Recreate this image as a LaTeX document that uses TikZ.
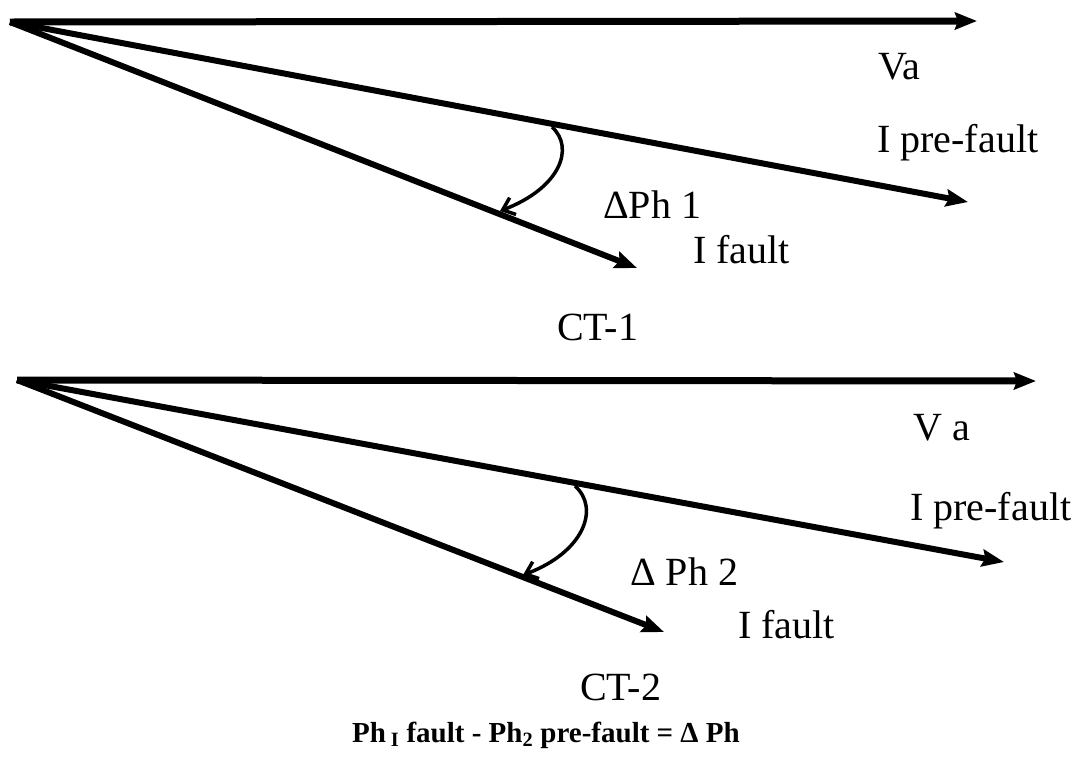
\documentclass[tikz,border=0pt]{standalone}
\usepackage{fontspec}
\setmainfont{Liberation Serif}
\usetikzlibrary{arrows.meta}
\begin{document}
\begin{tikzpicture}[x=1pt,y=-1pt,
  phasor/.style={line width=6pt,-{Stealth[length=22pt,width=17pt,inset=3pt]}},
  refph/.style={line width=7pt,-{Stealth[length=22pt,width=17pt,inset=3pt]}},
  angarc/.style={line width=3.5pt,-{Straight Barb[length=11pt,width=18pt,line width=3.5pt]}},
  lbl/.style={anchor=base west,inner sep=0pt,font=\fontsize{40}{48}\selectfont},
  captxt/.style={anchor=base,inner sep=0pt,font=\fontsize{29}{34}\selectfont\bfseries}]
\useasboundingbox (0,0) rectangle (1089,764);
% ---------- CT-1 ----------
\coordinate (o1) at (10,22);
\coordinate (va1) at (977,21);
\coordinate (pf1) at (968,202);
\coordinate (f1) at (637,268);
\coordinate (a1s) at (552,127);
\coordinate (a1e) at (500,211);
\draw[refph] (o1) -- (va1);
\draw[phasor] (o1) -- (pf1);
\draw[phasor] (o1) -- (f1);
\draw[angarc] (a1s) .. controls (575,148) and (560,188) .. (a1e);
\node[lbl] (tva1) at (878,79) {Va};
\node[lbl] (tpf1) at (877,152) {I pre-fault};
\node[lbl] (tdp1) at (603,218) {ΔPh 1};
\node[lbl] (tf1) at (693,263) {I fault};
\node[lbl] (tct1) at (557,340) {CT-1};
% ---------- CT-2 ----------
\coordinate (o2) at (17,380);
\coordinate (va2) at (1036,381);
\coordinate (pf2) at (1004,562);
\coordinate (f2) at (664,632);
\coordinate (a2s) at (575,486);
\coordinate (a2e) at (523,575);
\draw[refph] (o2) -- (va2);
\draw[phasor] (o2) -- (pf2);
\draw[phasor] (o2) -- (f2);
\draw[angarc] (a2s) .. controls (600,508) and (584,552) .. (a2e);
\node[lbl] (tva2) at (913,440) {V a};
\node[lbl] (tpf2) at (910,520) {I pre-fault};
\node[lbl] (tdp2) at (630,585) {Δ Ph 2};
\node[lbl] (tf2) at (738,638) {I fault};
\node[lbl] (tct2) at (580,700) {CT-2};
% ---------- caption ----------
\node[captxt] (caption) at (546,742) {Ph\,\textsubscript{I} fault - Ph\textsubscript{2} pre-fault = Δ Ph};
\end{tikzpicture}
\end{document}
